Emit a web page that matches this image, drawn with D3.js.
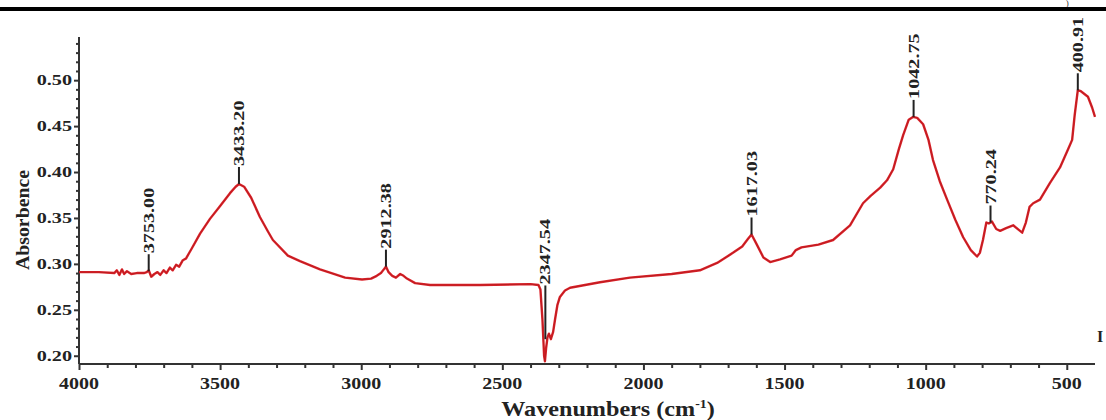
<!DOCTYPE html>
<html>
<head>
<meta charset="utf-8">
<script src="https://cdn.jsdelivr.net/npm/d3@7"></script>
<style>
  body { margin: 0; background: #fff; }
  svg { display: block; }
  text { font-family: "Liberation Serif", serif; font-weight: bold; fill: #222; }
</style>
</head>
<body>
<svg width="1106" height="420"></svg>
<script>
// FTIR spectrum
const wavenumbers = [4000,3930,3875,3866,3857,3848,3840,3830,3815,3795,3770,3760,3753,3744,3733,3722,3712,3700,3690,3678,3668,3656,3645,3632,3620,3617,3600,3571,3536,3500,3465,3445,3433,3415,3390,3359,3330,3313,3260,3217,3146,3057,2997,2965,2945,2930,2920,2912,2903,2890,2877,2862,2850,2838,2809,2756,2579,2400,2372,2365,2358,2352,2349,2345,2340,2335,2328,2320,2313,2305,2296,2278,2260,2154,2048,1900,1800,1739,1683,1650,1630,1617,1600,1575,1551,1516,1475,1460,1440,1380,1328,1268,1222,1195,1161,1137,1115,1095,1080,1060,1045,1030,1009,990,974,950,924,895,867,840,818,808,797,785,776,770,765,750,736,715,690,670,658,645,632,619,595,560,524,495,481,472,461,450,425,410,400];
const absorbance = [0.291,0.291,0.290,0.293,0.288,0.294,0.289,0.292,0.289,0.290,0.290,0.291,0.293,0.286,0.289,0.291,0.288,0.293,0.290,0.296,0.293,0.299,0.297,0.304,0.306,0.308,0.317,0.333,0.349,0.363,0.377,0.384,0.387,0.384,0.372,0.351,0.335,0.326,0.309,0.303,0.294,0.285,0.283,0.284,0.287,0.290,0.294,0.297,0.291,0.287,0.285,0.289,0.287,0.284,0.279,0.277,0.277,0.278,0.277,0.272,0.240,0.200,0.194,0.208,0.220,0.224,0.218,0.226,0.240,0.255,0.264,0.271,0.274,0.280,0.285,0.289,0.293,0.301,0.312,0.319,0.327,0.332,0.322,0.307,0.302,0.305,0.309,0.315,0.318,0.321,0.326,0.342,0.366,0.374,0.383,0.391,0.403,0.425,0.440,0.457,0.460,0.459,0.452,0.435,0.413,0.390,0.370,0.348,0.329,0.315,0.308,0.312,0.326,0.345,0.344,0.345,0.346,0.338,0.336,0.339,0.342,0.337,0.334,0.345,0.362,0.366,0.370,0.388,0.405,0.425,0.435,0.462,0.489,0.488,0.482,0.470,0.460];

const peakWn = [3753.00, 3433.20, 2912.38, 2347.54, 1617.03, 1042.75, 770.24, 460.91];
const peakText = ["3753.00", "3433.20", "2912.38", "2347.54", "1617.03", "1042.75", "770.24", "400.91"];
const peakAbs = [0.292, 0.387, 0.297, 0.218, 0.332, 0.460, 0.345, 0.489];
const peakTopAbs = [null, null, null, 0.2765, null, null, null, null];

const xTicks = [4000, 3500, 3000, 2500, 2000, 1500, 1000, 500];
const yTicks = [0.20, 0.25, 0.30, 0.35, 0.40, 0.45, 0.50];

var svg = d3.select("svg");

var x = d3.scaleLinear().domain([4000, 400]).range([79, 1095]);
var y = d3.scaleLinear().domain([0.191, 0.547]).range([364, 37]);

// stretch text to look like the wide serif of the original
function widen(sel, k) {
	sel.each(function() {
		var len = this.getComputedTextLength();
		d3.select(this).attr("textLength", len * k).attr("lengthAdjust", "spacingAndGlyphs");
	});
}

// bits of the neighbouring page that the crop keeps
svg.append("text").attr("x", 1066).attr("y", 6).style("font-size", "8px").style("font-weight", "normal").text(")");
svg.append("text").attr("x", 1097).attr("y", 342).style("font-size", "16px").attr("fill", "#000").text("I");

// x axis
var xAxis = svg.append("g")
	.attr("transform", "translate(0,364)")
	.call(d3.axisBottom(x).tickValues(d3.range(500, 4001, 100)).tickSize(4).tickFormat(""));
xAxis.select(".domain").attr("stroke", "#333").attr("stroke-width", 2).attr("d", "M79,0H1095");
xAxis.selectAll(".tick line").attr("stroke", "#333").attr("stroke-width", 2)
	.attr("y2", d => xTicks.includes(d) ? 6 : 4);

svg.append("g").selectAll("text")
	.data(xTicks)
	.enter()
	.append("text")
	.attr("x", d => x(d))
	.attr("y", 389)
	.attr("text-anchor", "middle")
	.style("font-size", "16px")
	.text(d => d)
	.call(widen, 1.25);

// y axis
var yAxis = svg.append("g")
	.attr("transform", "translate(79,0)")
	.call(d3.axisLeft(y).tickValues(d3.range(20, 55).map(v => v / 100)).tickSize(3).tickFormat(""));
yAxis.select(".domain").attr("stroke", "#333").attr("stroke-width", 2).attr("d", "M0,37V364");
yAxis.selectAll(".tick line").attr("stroke", "#333").attr("stroke-width", 2)
	.attr("x2", d => yTicks.some(t => Math.abs(t - d) < 1e-6) ? -5 : -3);

svg.append("g").selectAll("text")
	.data(yTicks)
	.enter()
	.append("text")
	.attr("x", 72)
	.attr("y", d => y(d) + 5)
	.attr("text-anchor", "end")
	.style("font-size", "15.5px")
	.text(d => d.toFixed(2))
	.call(widen, 1.3);

// axis titles
var xt = svg.append("text")
	.attr("x", 608)
	.attr("y", 416)
	.attr("text-anchor", "middle")
	.style("font-size", "21px");
xt.append("tspan").text("Wavenumbers (cm");
xt.append("tspan").attr("dy", -8).style("font-size", "12px").text("-1");
xt.append("tspan").attr("dy", 8).text(")");
widen(xt, 1.15);

svg.append("text")
	.attr("transform", "translate(29,220) rotate(-90)")
	.attr("text-anchor", "middle")
	.style("font-size", "18px")
	.text("Absorbence")
	.call(widen, 1.1);

// spectrum
var line = d3.line()
	.x((d, i) => x(wavenumbers[i]))
	.y(d => y(d));

svg.append("path")
	.datum(absorbance)
	.attr("d", line)
	.attr("fill", "none")
	.attr("stroke", "#dc222a")
	.attr("stroke-width", 2.4)
	.attr("stroke-linejoin", "round");
svg.append("path")
	.datum(absorbance)
	.attr("d", line)
	.attr("fill", "none")
	.attr("stroke", "#a01818")
	.attr("stroke-width", 0.9)
	.attr("stroke-opacity", 0.6)
	.attr("stroke-linejoin", "round");

// peak markers
var peaks = peakWn.map((w, i) => ({
	px: x(w),
	py: y(peakAbs[i]),
	top: peakTopAbs[i] == null ? y(peakAbs[i]) - 17 : y(peakTopAbs[i]),
	label: peakText[i]
}));

var pg = svg.append("g").selectAll("g").data(peaks).enter().append("g");
pg.append("line")
	.attr("x1", d => d.px).attr("x2", d => d.px)
	.attr("y1", d => d.py).attr("y2", d => d.top)
	.attr("stroke", "#222")
	.attr("stroke-width", 2);
pg.append("text")
	.attr("transform", d => "translate(" + (d.px + 5) + "," + (d.top - 1) + ") rotate(-90)")
	.attr("text-anchor", "start")
	.style("font-size", "15.5px")
	.text(d => d.label)
	.call(widen, 1.3);

// the crop rule sits over the tallest labels
svg.append("rect").attr("x", 0).attr("y", 0).attr("width", 1106).attr("height", 7).attr("fill", "#fff").lower();
svg.append("rect").attr("x", 0).attr("y", 7).attr("width", 1106).attr("height", 4).attr("fill", "#000");
</script>
</body>
</html>
